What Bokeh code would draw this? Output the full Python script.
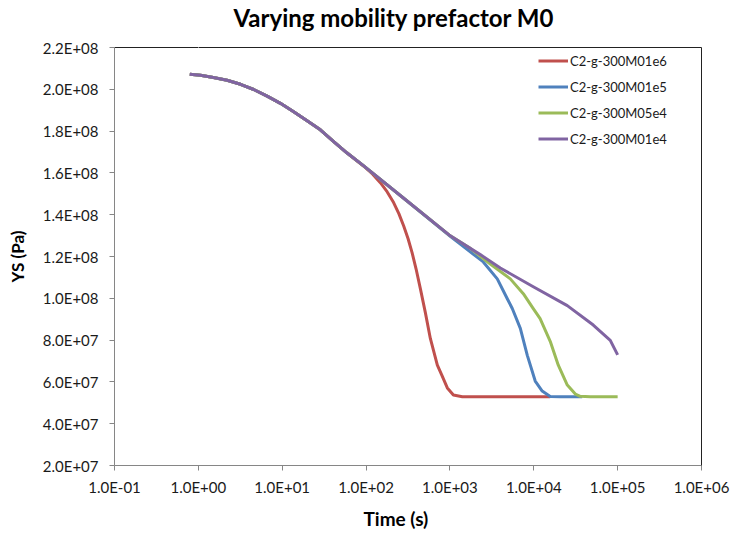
from bokeh.plotting import figure
from bokeh.models import FixedTicker, LogAxis, LinearAxis, Legend, LegendItem, Title
from bokeh.embed import file_html
from bokeh.resources import INLINE

# ---- text ----
title_text = "Varying mobility prefactor M0"
x_label = "Time (s)"
y_label = "YS (Pa)"

x_ticks = [0.1, 1.0, 10.0, 100.0, 1000.0, 10000.0, 100000.0, 1000000.0]
x_tick_labels = ["1.0E-01", "1.0E+00", "1.0E+01", "1.0E+02",
                 "1.0E+03", "1.0E+04", "1.0E+05", "1.0E+06"]
y_ticks = [20000000, 40000000, 60000000, 80000000, 100000000, 120000000,
           140000000, 160000000, 180000000, 200000000, 220000000]
y_tick_labels = ["2.0E+07", "4.0E+07", "6.0E+07", "8.0E+07", "1.0E+08", "1.2E+08",
                 "1.4E+08", "1.6E+08", "1.8E+08", "2.0E+08", "2.2E+08"]

series_names = ["C2-g-300M01e6", "C2-g-300M01e5", "C2-g-300M05e4", "C2-g-300M01e4"]
series_colors = ["#C0504D", "#4F81BD", "#9BBB59", "#8064A2"]

# ---- yield stress vs time, one pair of arrays per mobility prefactor ----
# early-time part shared by all runs
time_early = [0.79, 1.06, 1.51, 2.20, 3.18, 4.57, 6.61, 9.52, 13.7, 19.8, 28.5, 41.1, 59.4]
ys_early = [2.072e8, 2.067e8, 2.056e8, 2.043e8, 2.024e8, 1.999e8, 1.967e8, 1.933e8,
            1.893e8, 1.850e8, 1.806e8, 1.750e8, 1.695e8]

time_m01e6 = time_early + [93.9, 120, 148, 178, 213, 246, 281, 317, 353, 395, 444, 510,
                           584, 708, 800, 931, 1100, 1406, 15700]
ys_m01e6 = ys_early + [1.632e8, 1.594e8, 1.553e8, 1.510e8, 1.458e8, 1.405e8, 1.346e8,
                       1.285e8, 1.220e8, 1.140e8, 1.046e8, 9.30e7, 8.08e7, 6.80e7, 6.32e7,
                       5.71e7, 5.37e7, 5.29e7, 5.29e7]

time_m01e5 = time_early + [92.9, 256, 1010, 1330, 2500, 3670, 4830, 5540, 6910, 8370,
                           10400, 12600, 15700, 20700, 37800]
ys_m01e5 = ys_early + [1.635e8, 1.492e8, 1.297e8, 1.259e8, 1.174e8, 1.093e8, 9.98e7,
                       9.51e7, 8.56e7, 7.27e7, 6.04e7, 5.56e7, 5.30e7, 5.29e7, 5.29e7]

time_m05e4 = time_early + [92.9, 256, 1010, 1750, 3030, 5250, 7500, 9860, 11900, 15700,
                           19600, 25100, 31300, 35800, 47100, 100000]
ys_m05e4 = ys_early + [1.635e8, 1.492e8, 1.299e8, 1.239e8, 1.164e8, 1.093e8, 1.022e8,
                       9.51e7, 9.03e7, 7.94e7, 6.80e7, 5.85e7, 5.42e7, 5.31e7, 5.29e7,
                       5.29e7]

time_m01e4 = time_early + [92.9, 256, 1010, 2300, 3990, 9860, 25100, 51200, 81700,
                           100000]
ys_m01e4 = ys_early + [1.635e8, 1.492e8, 1.299e8, 1.209e8, 1.145e8, 1.055e8, 9.65e7,
                       8.72e7, 7.99e7, 7.29e7]

series_data = [(time_m01e6, ys_m01e6), (time_m01e5, ys_m01e5),
               (time_m05e4, ys_m05e4), (time_m01e4, ys_m01e4)]

FONT = "Lato"
TEXT = "#1a1a1a"
AXIS_GREY = "#868686"

p = figure(width=730, height=535, x_axis_type="log",
           x_range=(x_ticks[0], x_ticks[-1]), y_range=(y_ticks[0], y_ticks[-1]),
           output_backend="svg", toolbar_location=None,
           min_border_left=114, min_border_right=29, min_border_top=47,
           min_border_bottom=67)
p.background_fill_color = "white"
p.border_fill_color = "white"
p.outline_line_color = None
p.grid.visible = False

# bottom / left axes
xa = p.xaxis[0]
xa.ticker = FixedTicker(ticks=x_ticks)
xa.major_label_overrides = dict(zip(x_ticks, x_tick_labels))
xa.major_label_standoff = 7

ya = p.yaxis[0]
ya.ticker = FixedTicker(ticks=y_ticks)
ya.major_label_overrides = dict(zip(y_ticks, y_tick_labels))
ya.axis_label = y_label
ya.axis_label_standoff = 12
ya.major_label_standoff = 11

for ax in (xa, ya):
    ax.axis_line_color = AXIS_GREY
    ax.major_tick_line_color = AXIS_GREY
    ax.major_tick_out = 5
    ax.major_tick_in = 0
    ax.minor_tick_line_color = None
    ax.major_label_text_font = FONT
    ax.major_label_text_font_size = "15px"
    ax.major_label_text_color = TEXT
    ax.axis_label_text_font = FONT
    ax.axis_label_text_font_style = "bold"
    ax.axis_label_text_font_size = "17px"
    ax.axis_label_text_color = "#000000"

# dark frame line along the top; its single white, unlabeled tick only
# reserves a gap between the frame and the chart title
top_axis = LogAxis(ticker=FixedTicker(ticks=[1.0]), axis_line_color="#222222",
                   major_tick_line_color="white", major_tick_out=16, major_tick_in=0,
                   minor_tick_line_color=None, major_label_standoff=0,
                   major_label_overrides={1.0: ""}, major_label_text_font_size="1px")
right_axis = LinearAxis(ticker=FixedTicker(ticks=[]), axis_line_color="#222222",
                        major_tick_line_color=None, minor_tick_line_color=None,
                        major_label_standoff=0)
p.add_layout(top_axis, "above")
p.add_layout(right_axis, "right")

# chart title above the frame, x-axis title below the tick labels
p.add_layout(Title(text=title_text, align="left", offset=119, standoff=0,
                   text_font=FONT, text_font_style="bold", text_font_size="24px",
                   text_color="#000000"), "above")
p.add_layout(Title(text=x_label, align="left", offset=249, standoff=12,
                   text_font=FONT, text_font_style="bold", text_font_size="19px",
                   text_color="#000000"), "below")

# curves
items = []
for name, color, (t, ys) in zip(series_names, series_colors, series_data):
    r = p.line(t, ys, line_color=color, line_width=3, line_join="round")
    items.append(LegendItem(label=name, renderers=[r]))

legend = Legend(items=items, location=(424, 316), margin=0, padding=2,
                border_line_color=None, background_fill_alpha=0,
                label_text_font=FONT, label_text_font_size="13px",
                label_text_color=TEXT, glyph_width=30, glyph_height=21,
                label_height=21, spacing=5, label_standoff=2)
p.add_layout(legend)

open("out.html", "w").write(file_html(p, INLINE))
